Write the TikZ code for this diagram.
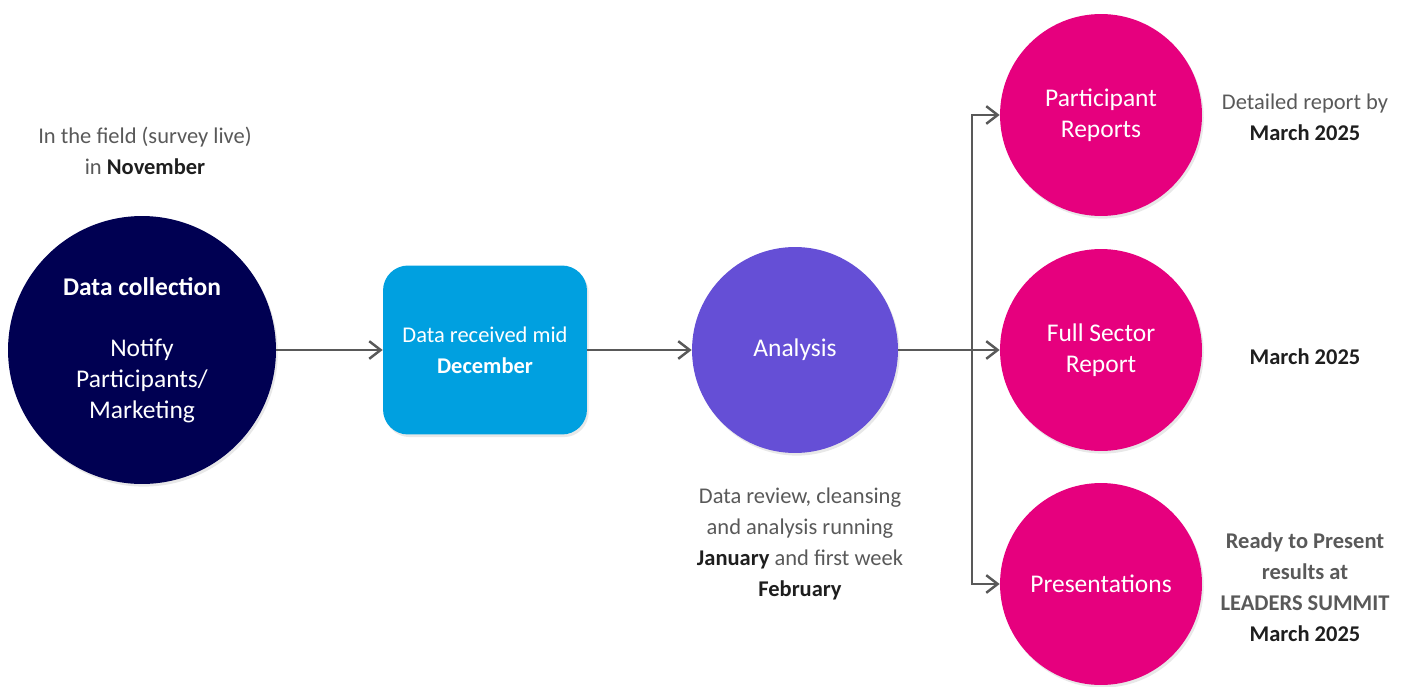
\documentclass[tikz,border=0pt]{standalone}
\usepackage{fontspec}
\setmainfont{Carlito}
\usepackage{tikz}
\usetikzlibrary{arrows.meta, shadows}

\definecolor{navy}{RGB}{0,0,82}
\definecolor{skyblue}{RGB}{0,160,224}
\definecolor{violet}{RGB}{101,79,214}
\definecolor{magenta}{RGB}{230,0,126}
\definecolor{txtgray}{RGB}{89,89,89}
\definecolor{txtdark}{RGB}{30,30,30}

\tikzset{
    stage/.style={circle, text=white, align=center, inner sep=0pt,
        font=\fontsize{14.5}{17.6}\selectfont,
        drop shadow={shadow xshift=1pt, shadow yshift=-1.5pt, opacity=0.18}},
    note/.style={align=center, text=txtgray, font=\fontsize{12.8}{17.6}\selectfont},
    flow/.style={-{Straight Barb[length=6.5pt, width=10pt]}, line width=1.4pt, draw=txtgray}
}

\begin{document}
\begin{tikzpicture}[x=0.02cm, y=-0.02cm]
    \useasboundingbox (0,0) rectangle (1408,686);

    % Collection
    \node[stage, fill=navy, minimum size=5.36cm] (collect) at (142,350)
        {\textbf{Data collection}\\[17.5pt] Notify\\ Participants/\\ Marketing};
    \node[note] (field) at (145,151) {In the field (survey live)\\ in \textbf{\color{txtdark}November}};

    % Data received
    \node[rectangle, rounded corners=0.5cm, fill=skyblue, text=white, align=center,
        minimum width=4.08cm, minimum height=3.38cm,
        font=\fontsize{12.8}{17.6}\selectfont,
        drop shadow={shadow xshift=1pt, shadow yshift=-1.5pt, opacity=0.18}] (received) at (485,350)
        {Data received mid\\ \textbf{December}};

    % Analysis
    \node[stage, fill=violet, minimum size=4.12cm] (analysis) at (795,350) {Analysis};
    \node[note] (review) at (800,544) {Data review, cleansing\\ and analysis running\\
        \textbf{\color{txtdark}January} and first week\\ \textbf{\color{txtdark}February}};

    % Outputs
    \node[stage, fill=magenta, minimum size=4.04cm] (preport) at (1101,115) {Participant\\ Reports};
    \node[stage, fill=magenta, minimum size=4.04cm] (sector) at (1101,350) {Full Sector\\ Report};
    \node[stage, fill=magenta, minimum size=4.04cm] (present) at (1101,584) {Presentations};

    \node[note] (pdate) at (1305,117) {Detailed report by\\ \textbf{\color{txtdark}March 2025}};
    \node[note] (sdate) at (1305,357) {\textbf{\color{txtdark}March 2025}};
    \node[note, font=\fontsize{12.8}{17.6}\selectfont\bfseries] (summit) at (1305,587)
        {Ready to Present\\ results at\\ LEADERS SUMMIT\\ {\color{txtdark}March 2025}};

    % Edges
    \coordinate (split) at (972,350);
    \draw[flow] (collect) -- (received);
    \draw[flow] (received) -- (analysis);
    \draw[flow] (analysis) -- (sector);
    \draw[flow] (split) |- (preport);
    \draw[flow] (split) |- (present);
\end{tikzpicture}
\end{document}
